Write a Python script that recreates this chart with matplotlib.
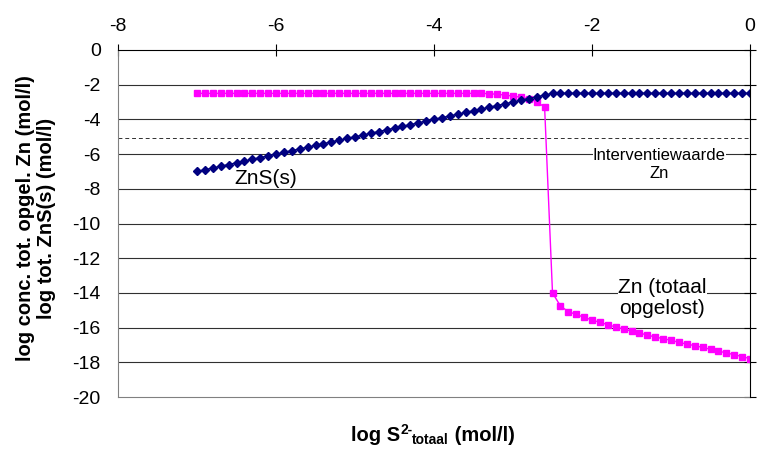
import numpy as np
import matplotlib.pyplot as plt

plt.rcParams['font.family'] = ['Liberation Sans', 'DejaVu Sans']

# log S2- totaal, stap 0.1 van -7 tot 0
log_s = [-7.0, -6.9, -6.8, -6.7, -6.6, -6.5, -6.4, -6.3, -6.2, -6.1,
         -6.0, -5.9, -5.8, -5.7, -5.6, -5.5, -5.4, -5.3, -5.2, -5.1,
         -5.0, -4.9, -4.8, -4.7, -4.6, -4.5, -4.4, -4.3, -4.2, -4.1,
         -4.0, -3.9, -3.8, -3.7, -3.6, -3.5, -3.4, -3.3, -3.2, -3.1,
         -3.0, -2.9, -2.8, -2.7, -2.6, -2.5, -2.4, -2.3, -2.2, -2.1,
         -2.0, -1.9, -1.8, -1.7, -1.6, -1.5, -1.4, -1.3, -1.2, -1.1,
         -1.0, -0.9, -0.8, -0.7, -0.6, -0.5, -0.4, -0.3, -0.2, -0.1, 0.0]

# log tot. ZnS(s)
zns = [-7.0, -6.9, -6.8, -6.7, -6.6, -6.5, -6.4, -6.3, -6.2, -6.1,
       -6.0, -5.9, -5.8, -5.7, -5.6, -5.5, -5.4, -5.3, -5.2, -5.1,
       -5.0, -4.9, -4.8, -4.7, -4.6, -4.5, -4.4, -4.3, -4.2, -4.1,
       -4.0, -3.9, -3.8, -3.7, -3.6, -3.5, -3.4, -3.3, -3.2, -3.1,
       -3.0, -2.9, -2.8, -2.7, -2.6, -2.5, -2.5, -2.5, -2.5, -2.5,
       -2.5, -2.5, -2.5, -2.5, -2.5, -2.5, -2.5, -2.5, -2.5, -2.5,
       -2.5, -2.5, -2.5, -2.5, -2.5, -2.5, -2.5, -2.5, -2.5, -2.5, -2.5]

# log conc. tot. opgelost Zn
zn_opg = [-2.5, -2.5, -2.5, -2.5, -2.5, -2.5, -2.5, -2.5, -2.5, -2.5,
          -2.5, -2.5, -2.5, -2.5, -2.5, -2.5, -2.5, -2.5, -2.5, -2.5,
          -2.5, -2.5, -2.5, -2.5, -2.5, -2.5, -2.5, -2.5, -2.5, -2.5,
          -2.5, -2.5, -2.5, -2.5, -2.5, -2.5, -2.5, -2.52, -2.55, -2.6,
          -2.66, -2.72, -2.8, -3.0, -3.28, -14.0, -14.75, -15.08, -15.24, -15.41,
          -15.56, -15.7, -15.83, -15.97, -16.08, -16.2, -16.31, -16.43, -16.54, -16.64,
          -16.73, -16.85, -16.95, -17.04, -17.14, -17.25, -17.35, -17.46, -17.56, -17.67, -17.79]

interventiewaarde = -5.1

fig = plt.figure(figsize=(7.57, 4.5), dpi=100)
ax = fig.add_axes([118/757, 1-397/450, 632/757, 347/450])

ax.set_xlim(-8, 0)
ax.set_ylim(-20, 0)
ax.set_xticks(np.arange(-8, 1, 2))
ax.set_yticks(np.arange(-20, 1, 2))

for yv in np.arange(-18, 0, 2):
    ax.axhline(yv, color='#303030', lw=0.8, zorder=1)
ax.axhline(interventiewaarde, color='#303030', lw=0.7, ls=(0, (4, 3)), zorder=1)

ax.plot(log_s, zn_opg, color='#FF00FF', lw=1, marker='s', ms=4.2,
        mec='#FF00FF', mfc='#FF00FF', zorder=3)
ax.plot(log_s, zns, color='#000080', lw=1, marker='D', ms=4,
        mec='#000080', mfc='#000080', zorder=4)

ax.text(-6.13, -7.4, 'ZnS(s)', fontsize=15, ha='center', va='center', zorder=5)
ax.text(-1.15, -6.6, 'Interventiewaarde\nZn', fontsize=12, ha='center',
        va='center', linespacing=1.25,
        bbox=dict(facecolor='white', edgecolor='none', pad=0), zorder=5)
ax.text(-1.11, -14.3, 'Zn (totaal\nopgelost)', fontsize=15, ha='center',
        va='center', linespacing=1.1,
        bbox=dict(facecolor='white', edgecolor='none', pad=0), zorder=5)

for s in ['left', 'bottom']:
    ax.spines[s].set_color('#808080')
for s in ['top', 'right']:
    ax.spines[s].set_color('black')
    ax.spines[s].set_zorder(6)

ax.xaxis.tick_top()
ax.tick_params(axis='x', direction='inout', length=9, width=0.8,
               labelsize=14, pad=6, top=True, bottom=False)
ax.tick_params(axis='y', direction='inout', length=9, width=0.8,
               labelsize=14, pad=8, left=False, right=True,
               labelleft=True, labelright=False)
ax.set_xticklabels(['-8', '-6', '-4', '-2', '0'])
ax.set_yticklabels([str(v) for v in range(-20, 1, 2)])

fig.text(36/757, 1-218/450, 'log conc. tot. opgel. Zn (mol/l)\nlog tot. ZnS(s) (mol/l)',
         rotation=90, ha='center', va='center', multialignment='center',
         fontsize=14.5, fontweight='bold', linespacing=1.1)

# x-as titel in stukjes: log S, superscript 2-, subscript totaal, (mol/l)
r = fig.canvas.get_renderer()
parts = [('log S', 14.5, 0), ('2-', 10, 7), ('totaal', 10, -3), (' (mol/l)', 14.5, 0)]
base_y = 450 - 441
items = []
total_w = 0
for txt, fs, dy in parts:
    t = fig.text(0, 0, txt, fontsize=fs, fontweight='bold', ha='left', va='baseline')
    w = t.get_window_extent(renderer=r).width
    items.append((t, w, dy))
    total_w += w
x0 = 433 - total_w / 2
for t, w, dy in items:
    t.set_position((x0 / 757, (base_y + dy) / 450))
    x0 += w

fig.savefig('out.png', dpi=100)
